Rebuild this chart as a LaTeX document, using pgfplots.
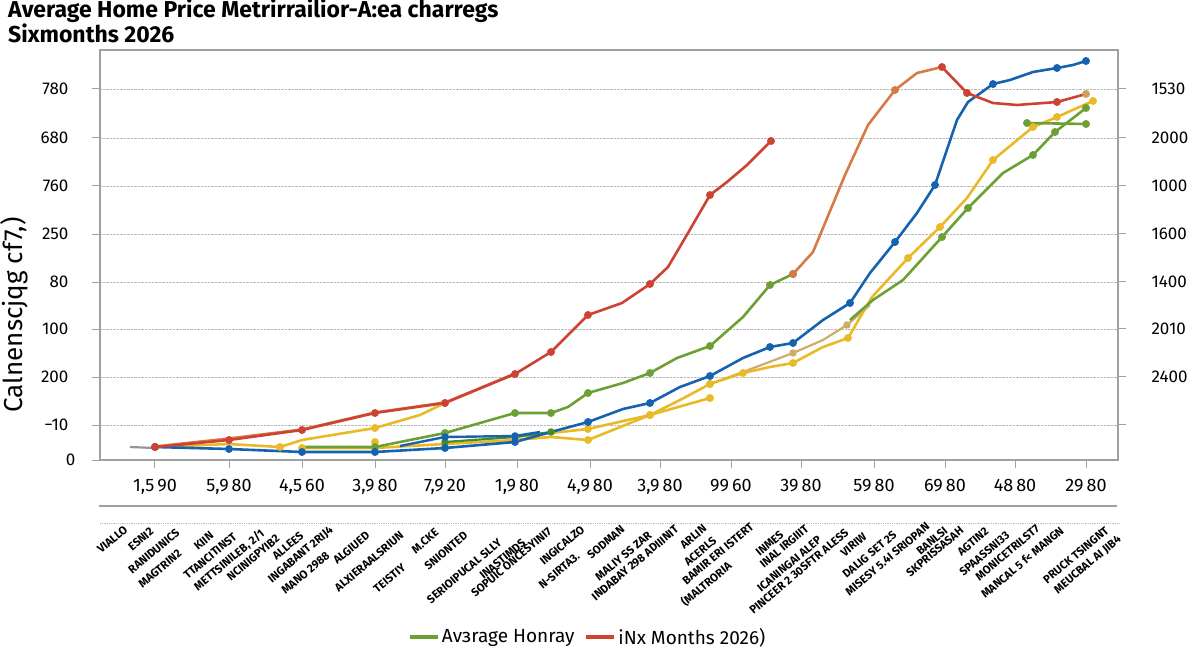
\documentclass[border=0pt]{standalone}
\usepackage{fontspec}
\setmainfont{Fira Sans}
\newfontfamily\condfont[FakeStretch=0.98]{Fira Sans}
\usepackage{pgfplots}
\pgfplotsset{compat=1.18}
\definecolor{cred}{RGB}{205,66,50}
\definecolor{corange}{RGB}{214,122,70}
\definecolor{cgreen}{RGB}{108,160,52}
\definecolor{cdgreen}{RGB}{70,140,40}
\definecolor{cblue}{RGB}{22,98,176}
\definecolor{cyellow}{RGB}{232,186,40}
\definecolor{ctan}{RGB}{206,172,108}
\definecolor{cgray}{RGB}{150,150,150}
\definecolor{cframe}{RGB}{160,160,160}
\pgfplotsset{ln/.style={line width=2.6pt, mark=*, mark size=2.6pt, line join=round, forget plot}}
\begin{document}
\begin{tikzpicture}
\useasboundingbox (0,0) rectangle (1200pt,654pt);
\begin{axis}[
  at={(100pt,194pt)}, anchor=south west,
  scale only axis, width=1018pt, height=410pt,
  xmin=100, xmax=1118, ymin=0, ymax=410,
  axis line style={draw=cframe, line width=1.2pt},
  tick pos=left, tick align=outside, major tick length=8pt,
  tick style={draw=cframe, line width=1pt},
  xtick={155,229,302,375,445,517,590,660,731,801,874,945,1015,1086},
  xticklabels={{1,5\,90},{5,9\,80},{4,5\,60},{3,9\,80},{7,9\,20},{1,9\,80},{4,9\,80},{3,9\,80},{99\,60},{39\,80},{59\,80},{69\,80},{48\,80},{29\,80}},
  xticklabel style={font=\fontsize{18}{18}\selectfont, yshift=-8pt},
  ytick={35,83,131,178,226,274,322,371},
  yticklabels={−10,200,100,80,250,760,680,780},
  yticklabel style={font=\fontsize{17}{17}\selectfont, xshift=-20pt},
  extra y ticks={0}, extra y tick labels={0},
  extra y tick style={yticklabel style={xshift=7pt}, grid=none},
  ymajorgrids, grid style={densely dotted, draw=gray!55, line width=0.8pt},
  legend style={draw=none, fill=none, at={(0.479,-0.432)}, anchor=center,
    font=\fontsize{19}{19}\selectfont, legend columns=2,
    /tikz/every even column/.append style={column sep=8pt}},
  legend image code/.code={\draw[#1] (0pt,0pt) -- (28pt,0pt);},
  clip=false,
]
% gray start
\addplot[ln, cgray, line width=2.2pt, mark=none] coordinates {(130,13)(155,12)};
% tan
\addplot[ln, ctan, line width=2.2pt, mark indices={1,3,5}] coordinates {(710,76)(743,88)(793,107)(823,120)(847,135)(870,155)};
% yellow
\addplot[ln, cyellow, mark indices={1,3,5,7}] coordinates {(155,13)(229,16)(280,13)(302,20)(375,32)(420,45)(445,57)};
\addplot[ln, cyellow, mark indices={1,2,3,4,6,7,8}] coordinates {(302,12)(375,12)(445,16)(515,20)(551,23)(588,20)(650,45)(710,62)};
\addplot[ln, cyellow, mark indices={1,3,4,6,7,9,11,13,14,16,17,18,19}] coordinates {(515,23)(551,27)(588,31)(650,45)(680,60)(710,76)(743,87)(770,93)(793,97)(823,113)(848,122)(872,163)(908,202)(940,233)(967,262)(993,300)(1033,333)(1057,343)(1093,359)};
\addplot[ln, cyellow, only marks] coordinates {(375,18)};
% green
\addplot[ln, cdgreen, line width=2.2pt] coordinates {(445,18)(515,23)(551,28)};
\addplot[ln, cgreen, mark indices={2,3,4,5,7,9,11,13,14}] coordinates {(302,13)(375,13)(445,27)(515,47)(551,47)(568,53)(588,67)(623,77)(650,87)(677,102)(710,114)(743,143)(770,175)(793,186)};
\addplot[ln, cgreen, mark indices={4,5,7,8,9}] coordinates {(850,140)(873,160)(903,180)(942,223)(968,252)(1003,287)(1033,305)(1055,328)(1086,352)};
\addplot[ln, cgreen] coordinates {(1027,337)(1086,336)};
% blue
\addplot[ln, cblue, line width=2.4pt, mark indices={2,3}] coordinates {(400,14)(445,23)(515,24)(540,28)};
\addplot[ln, cblue, mark indices={1,2,3,4,5,6,8,10,12,14,15,17,19,21,24,27,29}] coordinates {(155,13)(229,11)(302,8)(375,8)(445,12)(515,18)(551,28)(588,38)(623,51)(650,57)(680,73)(710,84)(743,102)(770,113)(793,117)(823,140)(850,157)(870,187)(895,218)(917,247)(935,275)(957,340)(968,358)(993,376)(1010,380)(1033,388)(1057,392)(1073,395)(1086,399)};
% orange and red
\addplot[ln, corange, line width=1.6pt, mark=none] coordinates {(155,14)(229,22)(302,31)(375,48)(445,58)(515,87)};
\addplot[ln, corange, mark indices={1,5}] coordinates {(793,186)(813,208)(845,285)(868,335)(895,370)(917,387)(942,393)};
\addplot[ln, cred, mark indices={1,2,5}] coordinates {(942,393)(967,367)(993,357)(1017,355)(1057,358)(1086,366)};
\addplot[ln, ctan!70!brown, only marks] coordinates {(1086,366)};
\addplot[ln, cred, mark indices={1,2,3,4,5,6,7,8,10,13,16}] coordinates {(155,13)(229,20)(302,30)(375,47)(445,57)(515,86)(551,108)(588,145)(622,157)(650,176)(668,193)(688,227)(710,265)(727,278)(747,295)(771,319)};
\addlegendimage{cgreen, line width=4pt}
\addlegendentry{Avзrage Honray}
\addlegendimage{cred, line width=4pt}
\addlegendentry{iNx Months 2026)}
\end{axis}
\begin{axis}[
  at={(100pt,194pt)}, anchor=south west,
  scale only axis, width=1018pt, height=410pt,
  xmin=100, xmax=1118, ymin=0, ymax=410,
  axis x line=none, axis y line*=right,
  axis line style={draw=cframe, line width=1.2pt, -},
  tick align=outside, major tick length=8pt,
  tick style={draw=cframe, line width=1pt},
  ytick={35,83,131,178,226,274,322,371},
  yticklabels={{},2400,2010,1400,1600,1000,2000,1530},
  yticklabel style={font=\fontsize{17}{17}\selectfont, xshift=22pt},
]
\end{axis}
\begin{scope}[x=1pt,y=-1pt,shift={(0pt,654pt)}]
\node[anchor=base west, font=\fontsize{23}{24}\selectfont\bfseries, inner sep=0pt] at (8,18) {Average Home Price Metrirrailior-A:ea charregs};
\node[anchor=base west, font=\fontsize{23}{24}\selectfont\bfseries, inner sep=0pt] at (8,43) {Sixmonths 2026};
\node[rotate=90, font=\fontsize{26}{26}\selectfont, inner sep=0pt] at (14,315) {Calnenscjqg cf7,)};
\draw[cframe, line width=1.2pt] (99,506) -- (1117,506);
\draw[gray!55, densely dotted, line width=0.8pt] (100,523) -- (1119,523);
\begin{scope}[every node/.style={rotate=40, anchor=east, inner sep=0pt, font=\condfont\bfseries\fontsize{11.5}{12}\selectfont}]
\node at (126,528) {VIALLO};
\node at (152,530) {ESNI2};
\node at (178,531) {RANIDUNICS};
\node at (180,552) {MAGTRIN2};
\node at (212,534) {KIIN};
\node at (235,535) {TTANCITINST};
\node at (263,532) {METTSINILEB, 2/1};
\node at (278,537) {NCINIGPYIB2};
\node at (302,534) {ALLEES};
\node at (332,529) {INGABANT 2RIJ4};
\node at (328,554) {MANO 2988};
\node at (368,534) {ALGIUED};
\node at (402,534) {ALXIERAALSRIUN};
\node at (404,566) {TEISTIY};
\node at (437,531) {M.CKE};
\node at (466,534) {SNIONTED};
\node at (500,541) {SERIOIPUCAL SLLY};
\node at (524,541) {INASTIMDS};
\node at (550,530) {SOPUIC ONCESYINI7};
\node at (583,528) {INGICALZO};
\node at (578,555) {N-SIRTA3.};
\node at (623,528) {SODMAN};
\node at (650,534) {MALIY SS ZAR};
\node at (677,528) {INDABAY 298 ADIIINIT};
\node at (705,527) {ARLIN};
\node at (715,539) {ACERLS};
\node at (752,525) {BAMIR ERI ISTERT};
\node at (730,564) {(MALTRORIA};
\node at (782,533) {INMES};
\node at (807,527) {INAL IRGIIIT};
\node at (820,538) {ICANINGAI ALEP};
\node at (847,531) {PINCEER 2 30SFTR ALESS};
\node at (865,535) {VIRIW};
\node at (895,533) {DALIG SET 2S};
\node at (928,525) {MISESY 5.4I SRIOPAN};
\node at (946,529) {BANLSI};
\node at (962,529) {SKPRISSASAH};
\node at (987,530) {AGTIN2};
\node at (1008,534) {SPAASSNI33};
\node at (1038,527) {MONICETRILST7};
\node at (1062,529) {MANCAL 5 f< MANGN};
\node at (1107,529) {PRUCK TSINGNT};
\node at (1120,538) {MEUCBAL AI JIB4};
\end{scope}
\end{scope}
\end{tikzpicture}
\end{document}
